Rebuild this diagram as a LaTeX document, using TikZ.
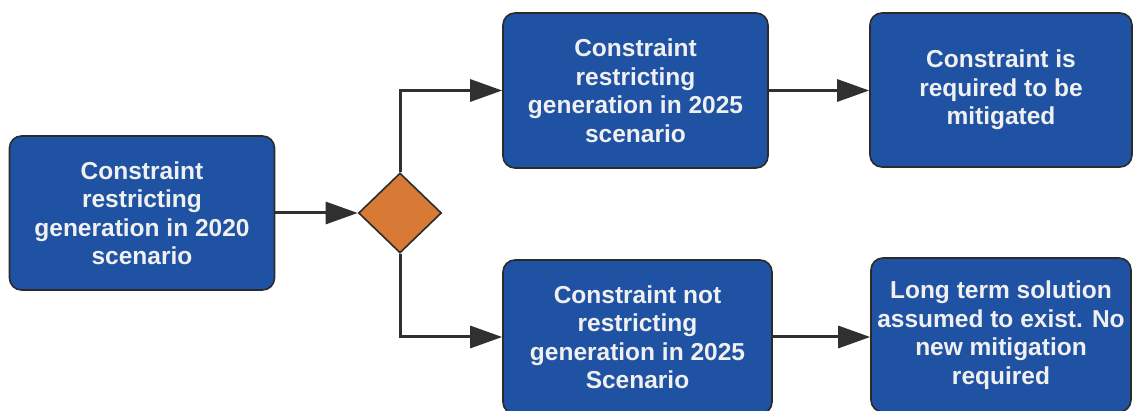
\documentclass[tikz,border=0pt]{standalone}
\usepackage{fontspec}
\setmainfont{Liberation Sans}
\usetikzlibrary{shapes.geometric,arrows.meta}
\definecolor{boxblue}{HTML}{1F52A3}
\definecolor{boxedge}{HTML}{2B2B2B}
\definecolor{dorange}{HTML}{D87A36}
\definecolor{linegray}{HTML}{303030}
\tikzset{
  flowbox/.style={draw=boxedge, line width=1.6pt, fill=boxblue, rounded corners=12pt,
    text=white!94!black, font=\fontsize{24.5}{28.5}\selectfont\bfseries, align=center,
    inner sep=0pt},
  decision/.style={draw=boxedge, line width=1.6pt, fill=dorange, diamond, inner sep=0pt,
    minimum width=83pt, minimum height=80pt},
  flowarrow/.style={draw=linegray, line width=3pt, -{Triangle[length=32pt,width=22pt]}}
}
\begin{document}
\begin{tikzpicture}[x=1pt,y=1pt]
\path[use as bounding box] (0,0) rectangle (1133,-411);
\node[flowbox, minimum width=265pt, minimum height=154pt] (a) at (142,-213)
  {Constraint\\restricting\\generation in 2020\\scenario};
\node[decision] (d) at (400,-213) {};
\node[flowbox, minimum width=265pt, minimum height=155pt] (b) at (635.5,-90.5)
  {Constraint\\restricting\\generation in 2025\\scenario};
\node[flowbox, minimum width=262pt, minimum height=154pt] (c) at (1001,-90)
  {Constraint is\\required to be\\mitigated};
\node[flowbox, minimum width=269pt, minimum height=154pt] (e) at (637.5,-337)
  {Constraint not\\restricting\\generation in 2025\\Scenario};
\node[flowbox, minimum width=260pt, minimum height=154pt] (f) at (1001,-335)
  {Long term solution\\assumed to exist. No\\new mitigation\\required};
\draw[flowarrow] (a.east) -- (d.west);
\draw[flowarrow] (d.north) |- (b.west);
\draw[flowarrow] (d.south) |- (e.west);
\draw[flowarrow] (b.east) -- (b.east -| c.west);
\draw[flowarrow] (e.east) -- (e.east -| f.west);
\end{tikzpicture}
\end{document}
